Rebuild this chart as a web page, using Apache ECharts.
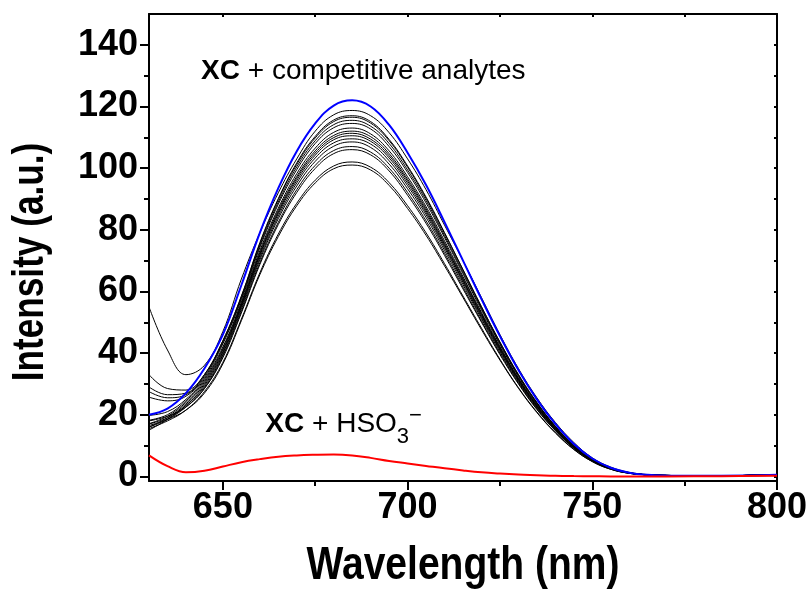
<!DOCTYPE html>
<html><head><meta charset="utf-8">
<script src="https://cdn.jsdelivr.net/npm/echarts@6/dist/echarts.min.js"></script>
<style>html,body{margin:0;padding:0;background:#fff}#c{width:809px;height:592px}</style>
</head><body><div id="c"></div>
<script>
// ---------- DATA ----------
const wavelengths = [630,635,640,645,650,655,660,665,670,675,680,685,690,695,700,705,710,715,720,725,730,735,740,745,750,755,760,765,770,785,800];

const blueCurve = [20,22,27,35,46,62,79,93.5,105.5,114.5,120.3,122,120,114,105,94.5,82.5,70,57.5,45.5,34.5,25,17,10.5,5.8,2.8,1.2,0.5,0.3,0.2,0.5];

const black01 = [55,41,33,36,47,64,79,92,103,112,117.3,118.7,117,111.5,103,93,81.5,70,58,46,35,25.5,17.5,11,6,3,1.3,0.6,0.3,0.2,0.6];
const black02 = [33,28.5,28,33,44,58.5,75.8,90.1,101.7,110.3,115.6,117,115.1,109.3,100.7,90.6,79.1,67.1,55.1,43.6,33.1,24,16.3,10.1,5.6,2.7,1.2,0.5,0.3,0.2,0.6];
const black03 = [29,26.5,27,33,44,58.3,75.4,89.8,101.2,109.8,115.1,116.5,114.6,108.9,100.3,90.2,78.8,66.9,54.9,43.5,32.9,23.9,16.2,10,5.5,2.7,1.2,0.5,0.3,0.2,0.6];
const black04 = [27.5,25.5,26.5,32.5,43.5,57.8,74.8,89,100.4,108.9,114.1,115.5,113.6,108,99.4,89.5,78.1,66.3,54.5,43.1,32.7,23.7,16.1,9.9,5.5,2.7,1.1,0.5,0.3,0.2,0.6];
const black05 = [25.7,24.5,26,32,43,57.3,74.2,88.3,99.5,108,113.1,114.5,112.7,107,98.6,88.7,77.5,65.7,54,42.7,32.4,23.5,16,9.9,5.4,2.6,1.1,0.5,0.3,0.2,0.6];
const black06 = [19.8,21,25,31.5,42,56.5,73.2,87,98.2,106.5,111.6,113,111.1,105.6,97.2,87.5,76.4,64.8,53.2,42.1,31.9,23.2,15.7,9.7,5.4,2.6,1.1,0.5,0.3,0.2,0.6];
const black07 = [18.2,20,24.5,31,41.5,56,72.5,86.3,97.3,105.6,110.6,112,110.2,104.7,96.4,86.8,75.7,64.3,52.8,41.8,31.7,23,15.6,9.6,5.3,2.6,1.1,0.5,0.3,0.2,0.6];
const black08 = [17.1,19.5,24,30.5,41,55.6,72,85.7,96.7,104.9,109.9,111.3,109.4,104,95.8,86.2,75.2,63.8,52.4,41.5,31.5,22.8,15.5,9.6,5.3,2.6,1.1,0.5,0.3,0.2,0.6];
const black09 = [16,19,23.5,30,40.5,55.3,71.6,85.2,96,104.2,109.2,110.5,108.7,103.3,95.1,85.6,74.7,63.4,52.1,41.2,31.3,22.7,15.4,9.5,5.3,2.5,1.1,0.5,0.3,0.2,0.6];
const black10 = [15,18.5,23,29.5,40,54.8,70.9,84.4,95.2,103.3,108.2,109.5,107.8,102.4,94.3,84.9,74.1,62.9,51.6,40.9,31,22.5,15.3,9.4,5.2,2.5,1.1,0.5,0.3,0.2,0.6];
const black11 = [17,19,23,29,39.5,54.2,70.2,83.6,94.2,102.2,107.1,108.5,106.7,101.3,93.3,84,73.3,62.2,51.1,40.4,30.7,22.2,15.1,9.3,5.2,2.5,1.1,0.5,0.3,0.2,0.6];
const black12 = [16,18.5,22.5,28.5,39,53.5,69.3,82.4,93,100.9,105.7,107,105.2,100,92.1,82.9,72.4,61.4,50.4,39.9,30.3,21.9,14.9,9.2,5.1,2.5,1.1,0.5,0.3,0.2,0.6];
const black13 = [18,19.5,22.5,28.5,38.5,53,68.7,81.7,92.1,99.9,104.7,106,104.3,99.1,91.2,82.1,71.7,60.8,50,39.5,30,21.7,14.8,9.1,5,2.4,1,0.5,0.3,0.2,0.6];
const black14 = [15.5,18,21.5,27.5,37,51,66,78.6,88.6,96.1,100.7,102,100.3,95.3,87.8,79,69,58.5,48.1,38,28.8,20.9,14.2,8.8,4.8,2.3,1,0.5,0.3,0.2,0.6];
const black15 = [16.5,18.5,21.5,27,36.5,50.5,65.4,77.8,87.8,95.2,99.8,101,99.4,94.4,86.9,78.2,68.3,58,47.6,37.7,28.6,20.7,14.1,8.7,4.8,2.3,1,0.5,0.3,0.2,0.6];

const redCurve = [6.8,3.3,1.3,1.8,3.2,4.6,5.6,6.4,6.8,7,7.1,6.8,6,5,4.2,3.4,2.6,1.9,1.3,0.9,0.6,0.4,0.2,0.1,0.05,0,0,0,0,0.05,0.2];

const xMajorTicks = [650,700,750,800];
const xMinorTicks = [675,725,775];
const xTopTicks = [650,675,700,725,750,775];
const yMajorTicks = [0,20,40,60,80,100,120,140];
const yMinorTicks = [10,30,50,70,90,110,130];
const yRightTicks = [0,10,20,30,40,50,60,70,80,90,100,110,120,130,140];

const xTitle = 'Wavelength (nm)';
const yTitle = 'Intensity (a.u.)';
const annotationTexts = ['{b|XC} + competitive analytes', '{b|XC} + HSO{sub|3}{sup|\u2212}'];
const annotationPos = [[644.1,131.5],[661.5,17]];

// ---------- CHART ----------
const SANS = "'Liberation Sans',Arial,sans-serif";
const blacks = [black01,black02,black03,black04,black05,black06,black07,black08,black09,black10,black11,black12,black13,black14,black15];
const zip = arr => wavelengths.map((w,i)=>[w,arr[i]]);

const series = [];
blacks.forEach((b,i)=>series.push({type:'line',name:'k'+i,data:zip(b),smooth:0.4,symbol:'none',
  lineStyle:{color:'#000',width:1},z:2}));
series.push({type:'line',name:'blue',data:zip(blueCurve),smooth:0.4,symbol:'none',lineStyle:{color:'#0000ff',width:2},z:3});
series.push({type:'line',name:'red',data:zip(redCurve),smooth:0.4,symbol:'none',lineStyle:{color:'#ff0000',width:2},z:4});
series.push({type:'scatter',symbolSize:0,silent:true,z:10,itemStyle:{opacity:1},
  data:annotationPos.map((p,i)=>({value:p,label:{formatter:annotationTexts[i]}})),
  label:{show:true,position:[0,0],align:'left',verticalAlign:'middle',color:'#000',opacity:1,fontSize:28,fontFamily:SANS,
    rich:{
      b:{fontWeight:'bold',fontSize:28,fontFamily:SANS,color:'#000'},
      sub:{fontSize:22,fontFamily:SANS,color:'#000',padding:[26,0,0,0]},
      sup:{fontSize:22,fontFamily:SANS,color:'#000',padding:[0,0,17,0]}
    }}});

const axisLineStyle = {color:'#000',width:2};
const chart = echarts.init(document.getElementById('c'),null,{renderer:'canvas'});
chart.setOption({
  backgroundColor:'#fff',
  animation:false,
  grid:{left:149,right:32,top:14,bottom:111,outerBoundsMode:'none',containLabel:false},
  xAxis:[
    {type:'value',min:630,max:800,position:'bottom',
      axisLine:{show:true,onZero:false,lineStyle:axisLineStyle},
      axisTick:{show:true,customValues:xMajorTicks,length:9,lineStyle:axisLineStyle},
      axisLabel:{show:true,customValues:xMajorTicks,margin:9,fontSize:36,fontWeight:'bold',fontFamily:SANS,color:'#000'},
      splitLine:{show:false}},
    {type:'value',min:630,max:800,position:'bottom',
      axisLine:{show:false,onZero:false},
      axisTick:{show:true,customValues:xMinorTicks,length:5,lineStyle:axisLineStyle},
      axisLabel:{show:false},splitLine:{show:false}},
    {type:'value',min:630,max:800,position:'top',
      axisLine:{show:true,onZero:false,lineStyle:axisLineStyle},
      axisTick:{show:true,inside:true,customValues:xTopTicks,length:3,lineStyle:axisLineStyle},
      axisLabel:{show:false},splitLine:{show:false}}
  ],
  yAxis:[
    {type:'value',min:-1.5,max:150,position:'left',
      axisLine:{show:true,onZero:false,lineStyle:axisLineStyle},
      axisTick:{show:true,customValues:yMajorTicks,length:9,lineStyle:axisLineStyle},
      axisLabel:{show:true,customValues:yMajorTicks,margin:11,fontSize:36,fontWeight:'bold',fontFamily:SANS,color:'#000'},
      splitLine:{show:false}},
    {type:'value',min:-1.5,max:150,position:'left',
      axisLine:{show:false,onZero:false},
      axisTick:{show:true,customValues:yMinorTicks,length:5,lineStyle:axisLineStyle},
      axisLabel:{show:false},splitLine:{show:false}},
    {type:'value',min:-1.5,max:150,position:'right',
      axisLine:{show:true,onZero:false,lineStyle:axisLineStyle},
      axisTick:{show:true,inside:true,customValues:yRightTicks,length:3,lineStyle:axisLineStyle},
      axisLabel:{show:false},splitLine:{show:false}}
  ],
  graphic:[
    {type:'text',x:463,y:566,scaleX:0.83,silent:true,
      style:{text:xTitle,fill:'#000',fontSize:47,fontWeight:'bold',fontFamily:SANS,align:'center',verticalAlign:'middle'}},
    {type:'text',x:31,y:262,rotation:Math.PI/2,scaleX:0.8,silent:true,
      style:{text:yTitle,fill:'#000',fontSize:44,fontWeight:'bold',fontFamily:SANS,align:'center',verticalAlign:'middle'}}
  ],
  series:series
});
</script></body></html>
